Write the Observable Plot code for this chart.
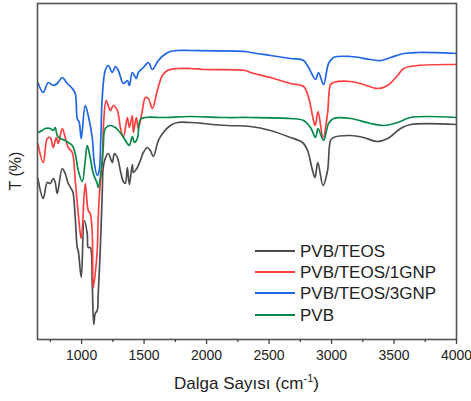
<!DOCTYPE html>
<html>
<head>
<meta charset="utf-8">
<script src="https://cdn.jsdelivr.net/npm/d3@7"></script>
<script src="https://cdn.jsdelivr.net/npm/@observablehq/plot@0.6"></script>
<style>
  html, body { margin: 0; padding: 0; background: #fff; }
  #chart { width: 471px; height: 401px; }
</style>
</head>
<body>
<div id="chart"></div>
<script>
// Series names (legend order)
const seriesNames = ["PVB/TEOS", "PVB/TEOS/1GNP", "PVB/TEOS/3GNP", "PVB"];
const seriesColors = ["#4d4d4d", "#ff3f3f", "#1f66e5", "#05894a"];

// X axis ticks
const majorTicks = [1000, 1500, 2000, 2500, 3000, 3500, 4000];
const minorTicks = [750, 1250, 1750, 2250, 2750, 3250, 3750];

// PVB/TEOS (wavenumber, transmittance in arbitrary units)
const wnTEOS = [650, 693, 725, 749, 773, 789, 805, 845, 869, 893, 925, 933, 949, 965, 973, 997, 1021, 1045, 1053, 1069, 1085, 1097, 1109, 1125, 1133, 1149, 1165, 1173, 1189, 1213, 1246, 1262, 1286, 1310, 1334, 1350, 1366, 1382, 1406, 1414, 1446, 1470, 1494, 1526, 1550, 1574, 1614, 1654, 1710, 1766, 1870, 1974, 2046, 2167, 2351, 2511, 2671, 2768, 2808, 2848, 2868, 2890, 2932, 2968, 2992, 3016, 3152, 3256, 3368, 3449, 3553, 3633, 4000];
const tTEOS = [161, 141, 157, 156, 161, 157, 146, 171, 166, 156, 149, 146, 122, 92, 89, 62, 119, 106, 92, 92, 56, 15, 26, 29, 46, 89, 146, 172, 181, 186, 177, 186, 182, 169, 158, 156, 172, 155, 175, 167, 172, 179, 187, 192, 189, 183, 199, 207, 214, 217, 217, 216, 215, 214, 213, 209, 202, 197, 189, 169, 162, 177, 154, 169, 199, 202, 204, 202, 198, 201, 211, 215, 215];

// PVB/TEOS/1GNP
const wn1GNP = [650, 693, 725, 749, 773, 797, 813, 845, 869, 893, 925, 949, 973, 997, 1029, 1053, 1069, 1085, 1093, 1109, 1125, 1133, 1149, 1165, 1177, 1197, 1230, 1254, 1286, 1310, 1334, 1366, 1382, 1406, 1414, 1438, 1454, 1486, 1510, 1534, 1566, 1606, 1646, 1686, 1766, 1870, 1974, 2311, 2351, 2511, 2671, 2776, 2816, 2856, 2870, 2892, 2932, 2968, 2992, 3016, 3152, 3256, 3368, 3449, 3529, 3577, 3689, 4000];
const t1GNP = [196, 177, 201, 202, 192, 202, 196, 211, 202, 192, 187, 159, 126, 101, 156, 129, 126, 106, 52, 66, 89, 122, 156, 176, 219, 239, 229, 234, 229, 212, 202, 222, 212, 224, 207, 222, 211, 229, 242, 241, 231, 249, 264, 269, 271, 271, 270, 269, 267, 262, 256, 253, 242, 219, 214, 228, 202, 226, 255, 257, 258, 255, 251, 254, 264, 271, 274, 275];

// PVB/TEOS/3GNP
const wn3GNP = [650, 693, 733, 773, 805, 845, 885, 925, 949, 965, 981, 997, 1029, 1053, 1085, 1101, 1125, 1141, 1153, 1165, 1189, 1213, 1246, 1270, 1294, 1334, 1366, 1382, 1406, 1438, 1454, 1494, 1534, 1566, 1614, 1654, 1710, 1766, 1870, 2311, 2351, 2511, 2671, 2776, 2816, 2872, 2896, 2936, 2976, 3016, 3152, 3312, 3393, 3473, 3577, 3689, 4000];
const t3GNP = [257, 247, 257, 254, 256, 262, 256, 251, 246, 221, 217, 201, 234, 224, 202, 177, 164, 169, 199, 242, 269, 274, 267, 273, 269, 256, 259, 254, 267, 261, 267, 272, 277, 270, 279, 284, 288, 289, 289, 288, 287, 284, 281, 279, 272, 260, 267, 255, 276, 282, 283, 280, 279, 282, 286, 287, 286];

// PVB
const wnPVB = [650, 685, 709, 749, 773, 789, 805, 829, 869, 893, 925, 949, 973, 1005, 1029, 1045, 1069, 1093, 1125, 1133, 1157, 1173, 1189, 1230, 1270, 1294, 1326, 1366, 1382, 1406, 1422, 1446, 1470, 1510, 1654, 1870, 2151, 2351, 2671, 2776, 2832, 2872, 2892, 2936, 2976, 3016, 3152, 3312, 3417, 3529, 3633, 4000];
const tPVB = [207, 209, 211, 211, 209, 212, 204, 201, 199, 197, 194, 186, 169, 158, 179, 194, 182, 166, 156, 152, 169, 192, 211, 214, 212, 209, 204, 196, 194, 203, 197, 201, 220, 222, 222, 223, 222, 222, 221, 219, 212, 202, 211, 199, 216, 221, 221, 216, 214, 217, 222, 222];

const wnList = [wnTEOS, wn1GNP, wn3GNP, wnPVB];
const tList = [tTEOS, t1GNP, t3GNP, tPVB];
const rows = [];
seriesNames.forEach((name, i) => {
  wnList[i].forEach((w, j) => rows.push({series: name, wn: w, t: tList[i][j]}));
});

const FONT = "Liberation Sans, Arial, Helvetica, sans-serif";

const svg = Plot.plot({
  width: 471,
  height: 401,
  marginLeft: 37,
  marginRight: 15,
  marginTop: 3,
  marginBottom: 62,
  style: {fontFamily: FONT, fontSize: "14px", color: "#222", background: "#fff"},
  x: {domain: [647, 4000]},
  y: {domain: [0, 336], axis: null},
  color: {domain: seriesNames, range: seriesColors},
  marks: [
    Plot.line(rows, {x: "wn", y: "t", z: "series", stroke: "series", strokeWidth: 1.7, curve: "catmull-rom"}),
    Plot.frame({stroke: "#555", strokeWidth: 1.6}),
    Plot.axisX({ticks: majorTicks, tickSize: 5, tickPadding: 6, tickFormat: d => String(d), stroke: "#444", strokeWidth: 1.3, fontSize: 14, label: null}),
    Plot.axisX({ticks: minorTicks, tickSize: 3, tickFormat: () => "", stroke: "#444", strokeWidth: 1.3, label: null})
  ]
});

document.getElementById("chart").appendChild(svg);

const s = d3.select(svg);
// X axis title with superscript
const xt = s.append("text")
  .attr("x", 246.5).attr("y", 389)
  .attr("text-anchor", "middle")
  .style("font-family", FONT).style("font-size", "17px").attr("fill", "#222");
xt.append("tspan").text("Dalga Sayısı (cm");
xt.append("tspan").text("-1").attr("dy", -7).style("font-size", "11px");
xt.append("tspan").text(")").attr("dy", 7);

// Y axis title
s.append("text")
  .attr("transform", "translate(21,171) rotate(-90)")
  .attr("text-anchor", "middle")
  .style("font-family", FONT).style("font-size", "16px").attr("fill", "#222")
  .text("T (%)");

// Legend
const legendRows = [251, 272, 293, 315];
seriesNames.forEach((name, i) => {
  const g = s.append("g");
  g.append("line").attr("x1", 255).attr("x2", 295).attr("y1", legendRows[i]).attr("y2", legendRows[i])
    .attr("stroke", seriesColors[i]).attr("stroke-width", 1.8);
  g.append("text").attr("x", 300).attr("y", legendRows[i] + 6)
    .attr("text-anchor", "start")
    .style("font-family", FONT).style("font-size", "17px").attr("fill", "#222")
    .text(name);
});
</script>
</body>
</html>
